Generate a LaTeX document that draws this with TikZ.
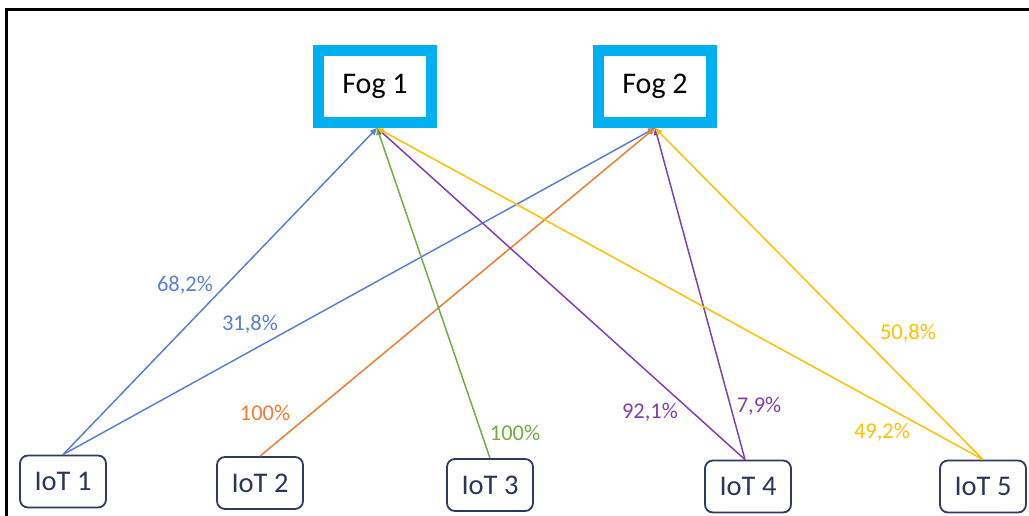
\documentclass[tikz,border=0pt]{standalone}
\usepackage{fontspec}
\setmainfont{Carlito}
\usetikzlibrary{arrows.meta}
\definecolor{fogblue}{HTML}{00B0F0}
\definecolor{iotnavy}{HTML}{2F3B63}
\definecolor{lblue}{HTML}{5A80D0}
\definecolor{lorange}{HTML}{ED7D31}
\definecolor{lgreen}{HTML}{70AD47}
\definecolor{lpurple}{HTML}{7F3FB0}
\definecolor{lyellow}{HTML}{FFC000}
\tikzset{
  fogbox/.style={draw=fogblue, line width=11pt, fill=white, minimum width=113pt, minimum height=72pt, font=\fontsize{30}{33}\selectfont, text=black},
  iotbox/.style={draw=iotnavy, line width=1.8pt, rounded corners=8pt, fill=white, minimum width=86pt, minimum height=52pt, font=\fontsize{28.5}{31}\selectfont, text=iotnavy!90!black},
  link/.style={line width=1.5pt, -{Triangle[length=7pt,width=6pt]}},
  pct/.style={font=\fontsize{22.5}{25}\selectfont, inner sep=0pt}
}
\begin{document}
\begin{tikzpicture}[x=1pt,y=-1pt]
\useasboundingbox (0,0) rectangle (1029,516);
% frame
\draw[line width=3pt, black] (6.5,516) -- (6.5,10) -- (1029,10);
% nodes
\node[fogbox] (fog1) at (375,86.5) {Fog 1};
\node[fogbox] (fog2) at (655,86.5) {Fog 2};
\node[iotbox] (iot1) at (63,481.5) {IoT 1};
\node[iotbox] (iot2) at (260,483) {IoT 2};
\node[iotbox] (iot3) at (490,485) {IoT 3};
\node[iotbox] (iot4) at (748,486.5) {IoT 4};
\node[iotbox] (iot5) at (983,486.5) {IoT 5};
\coordinate (f1) at ([xshift=2pt]fog1.south);
\coordinate (f2) at ([xshift=0pt]fog2.south);
% links
\draw[link, lblue] (iot1.north) -- (f1);
\draw[link, lblue] (iot1.north) -- (f2);
\draw[link, lorange] (iot2.north) -- (f2);
\draw[link, lgreen] (iot3.north) -- (f1);
\draw[link, lpurple] ([xshift=-3pt]iot4.north) -- (f1);
\draw[link, lpurple] ([xshift=-3pt]iot4.north) -- (f2);
\draw[link, lyellow] (iot5.north) -- (f1);
\draw[link, lyellow] (iot5.north) -- (f2);
% labels
\node[pct, text=lblue] (p1) at (185,285) {68,2\%};
\node[pct, text=lblue] (p2) at (250,324) {31,8\%};
\node[pct, text=lorange] (p3) at (265,413) {100\%};
\node[pct, text=lgreen] (p4) at (515,433) {100\%};
\node[pct, text=lpurple] (p5) at (650,412) {92,1\%};
\node[pct, text=lpurple] (p6) at (759,406) {7,9\%};
\node[pct, text=lyellow] (p7) at (882,432) {49,2\%};
\node[pct, text=lyellow] (p8) at (908,333) {50,8\%};
\end{tikzpicture}
\end{document}
